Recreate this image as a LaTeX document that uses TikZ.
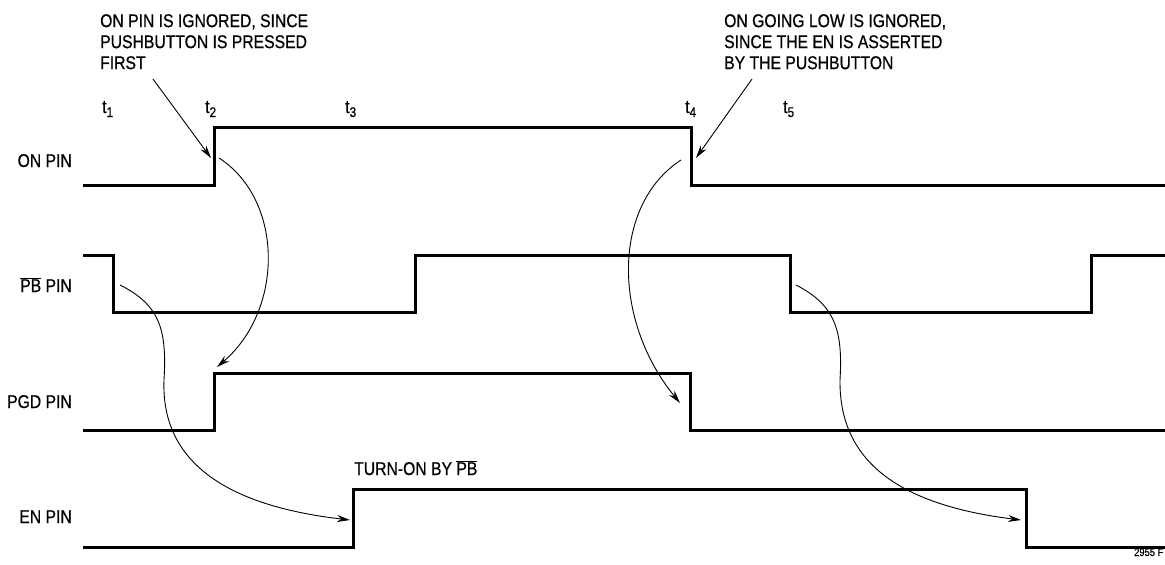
\documentclass[tikz,border=0pt]{standalone}
\usepackage{fontspec}
\setmainfont[FakeStretch=0.85,FakeBold=0.6]{Liberation Sans}
\usetikzlibrary{arrows.meta}
\newcommand{\tsub}[1]{t\raisebox{-4pt}{\fontsize{14}{14}\selectfont #1}}
\newcommand{\barPB}{$\overline{\mbox{PB}}$}

\begin{document}
\begin{tikzpicture}[x=1pt,y=-1pt,
  wave/.style={line width=3pt},
  curvearrow/.style={line width=0.9pt,-{Stealth[length=13pt,width=7pt]}},
  txt/.style={inner sep=0,font=\fontsize{18.5}{21}\selectfont},
  pinlabel/.style={txt,anchor=base east},
  tlabel/.style={txt,anchor=base west},
  notebox/.style={txt,anchor=north west,align=left}]
\useasboundingbox (0,0) rectangle (1165,565);

% pin names
\node[pinlabel](onpin) at (72,167){ON PIN};
\node[pinlabel](pbpin) at (72,292){\barPB{} PIN};
\node[pinlabel](pgdpin) at (72,408){PGD PIN};
\node[pinlabel](enpin) at (72,523){EN PIN};

% time marks
\foreach \n/\x in {1/102,2/205,3/345,4/685,5/783}
  \node[tlabel](t\n) at (\x,113){\tsub{\n}};

% waveforms
\draw[wave] (83,185) -- (214,185) -- (214,127) -- (691,127) -- (691,185) -- (1170,185);
\draw[wave] (83,255) -- (113,255) -- (113,312) -- (415,312) -- (415,255) -- (790,255)
  -- (790,312) -- (1091,312) -- (1091,255) -- (1170,255);
\draw[wave] (83,430) -- (214,430) -- (214,373) -- (690,373) -- (690,430) -- (1170,430);
\draw[wave] (83,547) -- (353,547) -- (353,489) -- (1026,489) -- (1026,547) -- (1170,547);

% notes
\node[notebox](noteon) at (100,14){ON PIN IS IGNORED, SINCE\\PUSHBUTTON IS PRESSED\\FIRST};
\node[notebox](notelow) at (724,14){ON GOING LOW IS IGNORED,\\SINCE THE EN IS ASSERTED\\BY THE PUSHBUTTON};
\node[txt,anchor=base west](turnon) at (354,475){TURN-ON BY \barPB};
\node[inner sep=0,anchor=base west,font=\fontsize{11}{12}\selectfont](fig) at (1134,556){2955 F};

\coordinate (a1) at (153,79);  \coordinate (b1) at (211,158);
\coordinate (a2) at (752,79);  \coordinate (b2) at (696,158);
\draw[curvearrow] (a1) -- (b1);
\draw[curvearrow] (a2) -- (b2);

% cause and effect
\coordinate (onup) at (219,158);   \coordinate (pgdup) at (217,367);
\coordinate (ondn) at (681,160);   \coordinate (pgddn) at (680,403);
\coordinate (pbdn1) at (120,285);  \coordinate (enup) at (350,520);
\coordinate (pbdn2) at (796,285);  \coordinate (endn) at (1021,520);
\draw[curvearrow] (onup) .. controls (284,200) and (284,310) .. (pgdup);
\draw[curvearrow] (ondn) .. controls (612,205) and (612,320) .. (pgddn);
\draw[curvearrow] (pbdn1) .. controls (160,305) and (167,330) .. (164,380)
  .. controls (161,458) and (220,505) .. (enup);
\draw[curvearrow] (pbdn2) .. controls (835,305) and (843,330) .. (840,380)
  .. controls (839,462) and (900,505) .. (endn);
\end{tikzpicture}
\end{document}
